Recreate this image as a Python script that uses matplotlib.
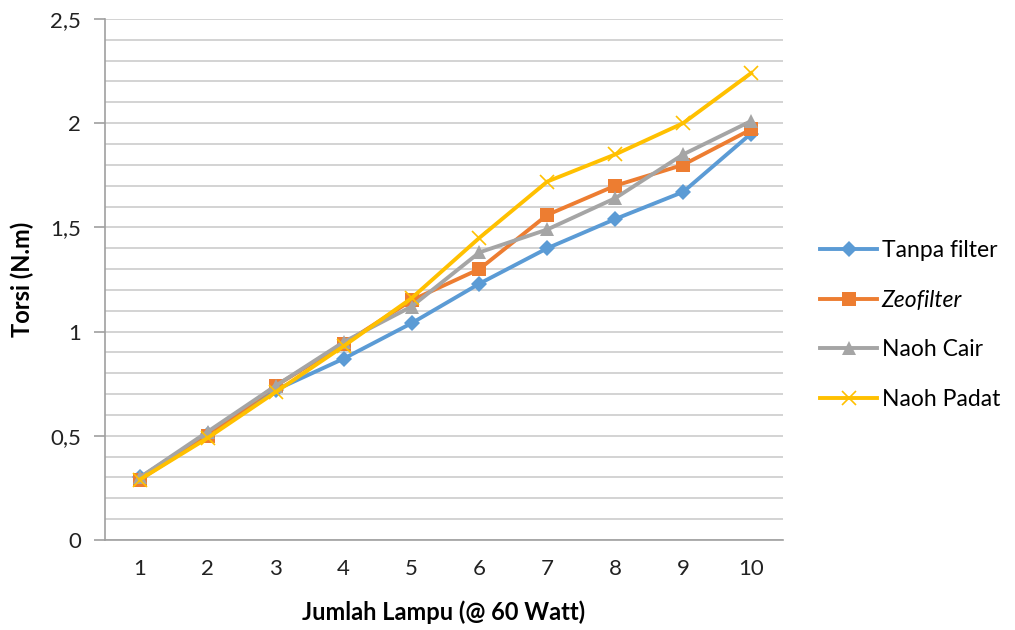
import matplotlib
matplotlib.use("Agg")
import matplotlib.pyplot as plt
from matplotlib.ticker import MultipleLocator, FuncFormatter
from matplotlib.lines import Line2D

plt.rcParams['font.family'] = ['Lato', 'DejaVu Sans']

lampu = [1, 2, 3, 4, 5, 6, 7, 8, 9, 10]
tanpa_filter = [0.30, 0.51, 0.72, 0.87, 1.04, 1.23, 1.40, 1.54, 1.67, 1.95]
zeofilter = [0.29, 0.50, 0.74, 0.94, 1.15, 1.30, 1.56, 1.70, 1.80, 1.97]
naoh_cair = [0.30, 0.52, 0.74, 0.95, 1.12, 1.38, 1.49, 1.64, 1.85, 2.01]
naoh_padat = [0.29, 0.49, 0.71, 0.93, 1.16, 1.45, 1.72, 1.85, 2.00, 2.24]

series = [
    ("Tanpa filter", tanpa_filter, "#5b9bd5", "D", 8, "normal"),
    ("Zeofilter", zeofilter, "#ed7d31", "s", 10, "italic"),
    ("Naoh Cair", naoh_cair, "#a5a5a5", "^", 10, "normal"),
    ("Naoh Padat", naoh_padat, "#ffc000", "x", 10, "normal"),
]

fig = plt.figure(figsize=(10.15, 6.30), dpi=100)
ax = fig.add_axes([0.1034, 0.1429, 0.668, 0.827])

x = list(range(len(lampu)))
handles = []
for name, vals, color, marker, ms, style in series:
    mew = 1.2 if marker == "x" else 0
    ax.plot(x, vals, color=color, lw=2.8, marker=marker, markersize=ms,
            markerfacecolor=color, markeredgecolor=color, markeredgewidth=mew,
            zorder=3)
    handles.append(Line2D([], [], color=color, lw=2.8, marker=marker, markersize=ms,
                          markerfacecolor=color, markeredgecolor=color,
                          markeredgewidth=mew, label=name))

ax.set_xlim(-0.515, len(lampu) - 0.53)
ax.set_ylim(0, 2.5)
ax.set_xticks(x)
ax.set_xticklabels([str(v) for v in lampu])
ax.yaxis.set_major_locator(MultipleLocator(0.5))
ax.yaxis.set_minor_locator(MultipleLocator(0.1))
ax.yaxis.set_major_formatter(FuncFormatter(lambda v, p: f"{v:g}".replace(".", ",")))

ax.grid(True, which="both", axis="y", color="#d0d0d0", lw=1.3, zorder=0)
for s in ["top", "right"]:
    ax.spines[s].set_visible(False)
for s in ["left", "bottom"]:
    ax.spines[s].set_color("#a0a0a0")
    ax.spines[s].set_linewidth(1.2)
ax.tick_params(axis="x", length=0, pad=14, labelsize=16, colors="#222222")
ax.tick_params(axis="y", which="major", length=8, width=1.2, color="#a0a0a0",
               pad=9, labelsize=16, labelcolor="#222222")
ax.tick_params(axis="y", which="minor", length=0)

ax.set_xlabel("Jumlah Lampu (@ 60 Watt)", fontsize=17, fontweight="bold", labelpad=15)
ax.set_ylabel("Torsi (N.m)", fontsize=17, fontweight="bold", labelpad=12)

leg = fig.legend(handles=handles, loc="center left", bbox_to_anchor=(0.792, 0.484),
                 frameon=False, fontsize=16.5, handlelength=2.5, handletextpad=0.2,
                 labelspacing=1.25, borderaxespad=0.3)
for txt, (_, _, _, _, _, style) in zip(leg.get_texts(), series):
    txt.set_fontstyle(style)

fig.savefig("out.png", dpi=100)
